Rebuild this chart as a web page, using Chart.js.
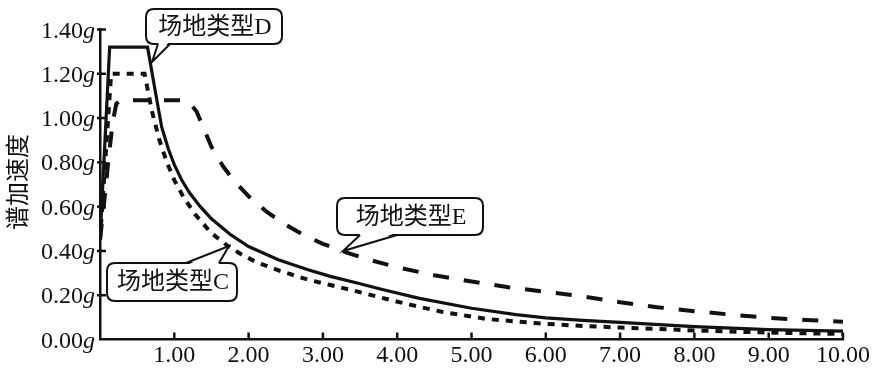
<!DOCTYPE html>
<html><head><meta charset="utf-8">
<script src="https://cdn.jsdelivr.net/npm/chart.js@4/dist/chart.umd.min.js"></script>
<style>html,body{margin:0;padding:0;background:#fff}canvas{display:block}</style>
</head><body>
<canvas id="c" width="876" height="370"></canvas>
<script>
// ---- data ----
const periodsD = [0, 0.13, 0.64, 0.75, 0.83, 0.92, 1.0, 1.1, 1.2, 1.35, 1.5, 1.75, 2.0, 2.4, 2.8, 3.1, 3.5, 3.8, 4.3, 5.0, 5.6, 6.0, 6.5, 7.0, 8.0, 9.0, 10.0];
const valuesD  = [0.45, 1.32, 1.32, 1.11, 0.96, 0.86, 0.79, 0.72, 0.665, 0.60, 0.545, 0.475, 0.42, 0.36, 0.315, 0.285, 0.252, 0.226, 0.186, 0.141, 0.112, 0.098, 0.086, 0.077, 0.058, 0.045, 0.038];

const periodsC = [0, 0.15, 0.6, 0.7, 0.8, 0.9, 1.0, 1.12, 1.28, 1.5, 1.73, 1.9, 2.1, 2.42, 2.8, 3.1, 3.4, 3.77, 4.2, 4.6, 5.2, 5.9, 6.5, 7.0, 8.0, 9.0, 10.0];
const valuesC  = [0.45, 1.20, 1.20, 1.03, 0.90, 0.80, 0.72, 0.645, 0.565, 0.48, 0.42, 0.385, 0.35, 0.31, 0.27, 0.246, 0.222, 0.19, 0.155, 0.125, 0.093, 0.073, 0.061, 0.054, 0.041, 0.031, 0.025];

const periodsE = [0, 0.05, 0.11, 0.17, 0.22, 0.28, 1.1, 1.2, 1.3, 1.4, 1.5, 1.66, 1.82, 2.0, 2.25, 2.5, 2.75, 3.0, 3.3, 3.6, 4.0, 4.5, 5.0, 5.5, 6.0, 6.5, 7.0, 7.5, 8.0, 8.5, 9.0, 9.5, 10.0];
const valuesE  = [0.45, 0.60, 0.80, 0.98, 1.065, 1.08, 1.08, 1.07, 1.03, 0.95, 0.87, 0.78, 0.71, 0.647, 0.575, 0.518, 0.47, 0.432, 0.395, 0.362, 0.326, 0.29, 0.262, 0.236, 0.215, 0.195, 0.168, 0.146, 0.128, 0.112, 0.098, 0.088, 0.08];

const xTicks = [1, 2, 3, 4, 5, 6, 7, 8, 9, 10];
const xTickLabels = ['1.00', '2.00', '3.00', '4.00', '5.00', '6.00', '7.00', '8.00', '9.00', '10.00'];
const yTicks = [0, 0.2, 0.4, 0.6, 0.8, 1.0, 1.2, 1.4];
const yTickLabels = ['0.00', '0.20', '0.40', '0.60', '0.80', '1.00', '1.20', '1.40'];
const yUnit = 'g';
const yTitle = '谱加速度';
const seriesNames = ['场地类型D', '场地类型C', '场地类型E'];

// ---- callout geometry (pixels) ----
const callouts = [
  {text: seriesNames[0], box: [146, 9, 282, 44], tail: [[158, 44], [152, 62], [170, 44]], edge: 'bottom'},
  {text: seriesNames[1], box: [107, 263, 237, 301], tail: [[186, 263], [229, 246], [219, 263]], edge: 'top'},
  {text: seriesNames[2], box: [337, 198, 483, 235], tail: [[360, 235], [343, 251], [397, 235]], edge: 'bottom'}
];

const toPts = (xs, ys) => xs.map((x, i) => ({x: x, y: ys[i]}));
const INK = '#111';
const SERIF = '"Liberation Serif", "Noto Sans CJK SC", serif';

function rr(ctx, x1, y1, x2, y2, r) {
  ctx.beginPath();
  ctx.moveTo(x1 + r, y1);
  ctx.lineTo(x2 - r, y1); ctx.quadraticCurveTo(x2, y1, x2, y1 + r);
  ctx.lineTo(x2, y2 - r); ctx.quadraticCurveTo(x2, y2, x2 - r, y2);
  ctx.lineTo(x1 + r, y2); ctx.quadraticCurveTo(x1, y2, x1, y2 - r);
  ctx.lineTo(x1, y1 + r); ctx.quadraticCurveTo(x1, y1, x1 + r, y1);
  ctx.closePath();
}

const decor = {
  id: 'decor',
  afterDraw(chart) {
    const ctx = chart.ctx, xs = chart.scales.x, ys = chart.scales.y;
    const x0 = xs.getPixelForValue(0), y0 = ys.getPixelForValue(0);
    ctx.save();
    ctx.strokeStyle = INK; ctx.fillStyle = INK; ctx.lineWidth = 2.5;
    // x ticks (inward) + labels
    ctx.font = '24px ' + SERIF; ctx.textAlign = 'center'; ctx.textBaseline = 'alphabetic';
    xTicks.forEach((t, i) => {
      const px = xs.getPixelForValue(t);
      ctx.beginPath(); ctx.moveTo(px, y0); ctx.lineTo(px, y0 - 7); ctx.stroke();
      ctx.fillText(xTickLabels[i], px, 362);
    });
    // y ticks (inward) + labels with italic g
    yTicks.forEach((v, i) => {
      const py = ys.getPixelForValue(v);
      if (v > 0) { ctx.beginPath(); ctx.moveTo(x0 - 3, py); ctx.lineTo(x0 + 6, py); ctx.stroke(); }
      ctx.textAlign = 'right';
      ctx.font = 'italic 24px ' + SERIF;
      const gw = ctx.measureText(yUnit).width;
      ctx.fillText(yUnit, 95, py + 8);
      ctx.font = '24px ' + SERIF;
      ctx.fillText(yTickLabels[i], 95 - gw, py + 8);
    });
    // y title
    ctx.save();
    ctx.translate(17, 182); ctx.rotate(-Math.PI / 2);
    ctx.font = '24px "Noto Sans CJK SC", sans-serif';
    ctx.textAlign = 'center'; ctx.textBaseline = 'middle';
    ctx.fillText(yTitle, 0, 0);
    ctx.restore();
    // callouts
    callouts.forEach(c => {
      const [x1, y1, x2, y2] = c.box;
      ctx.lineWidth = 2;
      rr(ctx, x1, y1, x2, y2, 8);
      ctx.fillStyle = '#fff'; ctx.fill(); ctx.stroke();
      const [a, tip, b] = c.tail;
      const inset = c.edge === 'bottom' ? -2 : 2;
      ctx.beginPath();
      ctx.moveTo(a[0] + 1, a[1] + inset); ctx.lineTo(tip[0], tip[1]); ctx.lineTo(b[0] - 1, b[1] + inset);
      ctx.closePath(); ctx.fillStyle = '#fff'; ctx.fill();
      ctx.beginPath();
      ctx.moveTo(a[0], a[1]); ctx.lineTo(tip[0], tip[1]); ctx.lineTo(b[0], b[1]);
      ctx.lineJoin = 'miter'; ctx.stroke();
      ctx.fillStyle = INK;
      ctx.font = '24px ' + SERIF; ctx.textAlign = 'center'; ctx.textBaseline = 'middle';
      ctx.fillText(c.text, (x1 + x2) / 2 + 1, (y1 + y2) / 2 + 1);
    });
    ctx.restore();
  }
};

new Chart(document.getElementById('c'), {
  type: 'scatter',
  data: {
    datasets: [
      {label: seriesNames[0], data: toPts(periodsD, valuesD), showLine: true, borderColor: INK, borderWidth: 3.2, pointRadius: 0, tension: 0, borderJoinStyle: 'miter'},
      {label: seriesNames[1], data: toPts(periodsC, valuesC), showLine: true, borderColor: INK, borderWidth: 4, borderDash: [7, 7], pointRadius: 0, tension: 0, borderJoinStyle: 'miter'},
      {label: seriesNames[2], data: toPts(periodsE, valuesE), showLine: true, borderColor: INK, borderWidth: 4, borderDash: [16, 15], pointRadius: 0, tension: 0, borderJoinStyle: 'miter'}
    ]
  },
  options: {
    responsive: false,
    animation: false,
    devicePixelRatio: 1,
    layout: {padding: {top: 29.5, right: 33, left: 0, bottom: 0}},
    plugins: {legend: {display: false}, tooltip: {enabled: false}},
    scales: {
      x: {
        type: 'linear', min: 0, max: 10,
        grid: {display: false, drawTicks: false},
        border: {display: true, color: INK, width: 2.5},
        ticks: {display: false, stepSize: 1},
        afterFit: s => { s.height = 30.5; }
      },
      y: {
        type: 'linear', min: 0, max: 1.4,
        grid: {display: false, drawTicks: false},
        border: {display: true, color: INK, width: 2.5},
        ticks: {display: false, stepSize: 0.2},
        afterFit: s => { s.width = 100; }
      }
    }
  },
  plugins: [decor]
});
</script>
</body></html>
